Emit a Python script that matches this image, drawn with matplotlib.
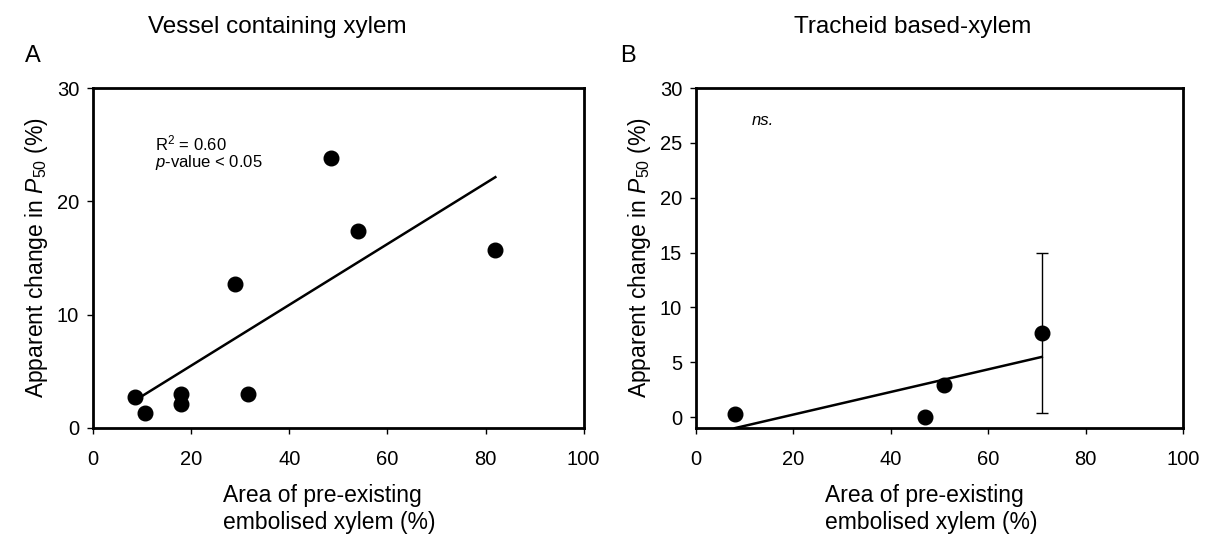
import numpy as np
import matplotlib
matplotlib.use("Agg")
import matplotlib.pyplot as plt

plt.rcParams['font.family'] = ['Liberation Sans', 'DejaVu Sans']
plt.rcParams['mathtext.fontset'] = 'custom'
plt.rcParams['mathtext.rm'] = 'Liberation Sans'
plt.rcParams['mathtext.it'] = 'Liberation Sans:italic'

# vessel containing xylem
vessel_x = [8.5, 10.5, 18.0, 18.0, 29.0, 31.5, 48.5, 54.0, 82.0]
vessel_y = [2.7, 1.3, 3.0, 2.1, 12.7, 3.0, 23.8, 17.4, 15.7]

# tracheid based xylem
tracheid_x = [8.0, 47.0, 51.0, 71.0]
tracheid_y = [0.3, 0.0, 2.9, 7.7]
tracheid_err_low = [0.0, 0.0, 0.0, 7.3]
tracheid_err_high = [0.0, 0.0, 0.0, 7.3]

y_label = r'Apparent change in $\mathit{P}_{\mathrm{50}}$ (%)'
x_label = 'Area of pre-existing\nembolised xylem (%)'


def style_axes(ax, ylim, yticks):
    ax.set_xlim(0, 100)
    ax.set_ylim(*ylim)
    ax.set_xticks(np.arange(0, 101, 20))
    ax.set_yticks(yticks)
    for s in ax.spines.values():
        s.set_linewidth(2.0)
    ax.tick_params(direction='out', length=4, width=1, labelsize=14.5)
    ax.tick_params(axis='x', pad=12)
    ax.tick_params(axis='y', pad=6)
    ax.set_xlabel(x_label, fontsize=16.5, multialignment='left')
    ax.xaxis.set_label_coords(0.482, -0.165)
    ax.set_ylabel(y_label, fontsize=16.5, labelpad=5)


def fit_line(ax, x, y):
    k, b = np.polyfit(x, y, 1)
    xs = np.array([min(x), max(x)])
    ax.plot(xs, k * xs + b, color='black', lw=1.8)


fig = plt.figure(figsize=(12.19, 5.41), dpi=100)
ax1 = fig.add_axes([0.0763, 0.2089, 0.4025, 0.6284])
ax2 = fig.add_axes([0.5710, 0.2089, 0.3995, 0.6284])

# panel A
fit_line(ax1, vessel_x, vessel_y)
ax1.plot(vessel_x, vessel_y, 'o', color='black', ms=10.5, clip_on=False)
style_axes(ax1, (0, 30), [0, 10, 20, 30])
ax1.text(12.6, 25.1, r'R$^{2}$ = 0.60', fontsize=12, va='center')
ax1.text(12.6, 23.4, r'$\mathit{p}$-value < 0.05', fontsize=12, va='center')
ax1.text(0.3755, 1.162, 'Vessel containing xylem', transform=ax1.transAxes,
         fontsize=17.5, ha='center', va='baseline')
ax1.text(-0.139, 1.076, 'A', transform=ax1.transAxes, fontsize=17, va='baseline')

# panel B
fit_line(ax2, tracheid_x, tracheid_y)
ax2.errorbar(tracheid_x[-1:], tracheid_y[-1:],
             yerr=[tracheid_err_low[-1:], tracheid_err_high[-1:]],
             fmt='none', ecolor='black', elinewidth=1, capsize=4, capthick=1)
ax2.plot(tracheid_x, tracheid_y, 'o', color='black', ms=10.5, clip_on=False)
style_axes(ax2, (-1, 30), [0, 5, 10, 15, 20, 25, 30])
ax2.text(11.5, 27.0, 'ns.', fontsize=12, style='italic', va='center')
ax2.text(0.445, 1.162, 'Tracheid based-xylem', transform=ax2.transAxes,
         fontsize=17.5, ha='center', va='baseline')
ax2.text(-0.156, 1.076, 'B', transform=ax2.transAxes, fontsize=17, va='baseline')

fig.savefig('out.png', dpi=100)
